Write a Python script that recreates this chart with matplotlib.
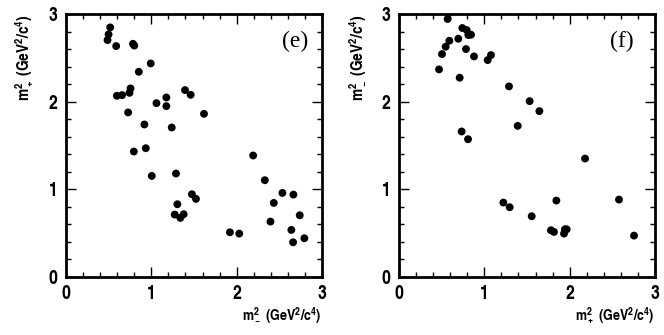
import matplotlib
matplotlib.use("Agg")
import matplotlib.pyplot as plt
from matplotlib.ticker import MultipleLocator

CN = 'TeX Gyre Heros Cn'
plt.rcParams['font.family'] = [CN, 'Liberation Sans', 'DejaVu Sans']
plt.rcParams['mathtext.fontset'] = 'custom'
plt.rcParams['mathtext.rm'] = CN + ':bold'
plt.rcParams['mathtext.it'] = CN + ':bold'
plt.rcParams['mathtext.bf'] = CN + ':bold'
plt.rcParams['mathtext.sf'] = CN + ':bold'

# Panel (e): x = m-^2, y = m+^2
e_x = [0.518, 0.499, 0.487, 0.588, 0.785, 0.800, 0.993, 0.853, 0.596, 0.658, 0.744, 0.756,
       1.060, 1.176, 1.176, 1.395, 1.461, 1.617, 0.728, 0.919, 1.239, 0.935, 0.795, 1.005,
       1.289, 1.305, 1.274, 1.340, 1.379, 1.476, 1.523, 1.921, 2.030, 2.193, 2.330, 2.435,
       2.396, 2.536, 2.665, 2.739, 2.641, 2.661, 2.793]
e_y = [2.847, 2.767, 2.703, 2.634, 2.660, 2.640, 2.436, 2.341, 2.067, 2.075, 2.101, 2.151,
       1.983, 2.048, 1.949, 2.132, 2.078, 1.861, 1.877, 1.740, 1.705, 1.469, 1.431, 1.153,
       1.180, 0.830, 0.712, 0.674, 0.716, 0.944, 0.891, 0.510, 0.495, 1.386, 1.104, 0.845,
       0.632, 0.959, 0.940, 0.704, 0.537, 0.396, 0.442]

# Panel (f): x = m+^2, y = m-^2
f_x = [0.570, 0.469, 0.504, 0.547, 0.590, 0.695, 0.742, 0.793, 0.813, 0.844, 0.785, 0.879,
       0.711, 1.039, 1.078, 1.289, 1.531, 1.645, 1.391, 0.734, 0.809, 2.180, 1.223, 1.297,
       1.555, 1.844, 2.578, 1.781, 1.816, 1.934, 1.945, 1.965, 2.754]
f_y = [2.943, 2.368, 2.543, 2.627, 2.695, 2.718, 2.840, 2.817, 2.760, 2.764, 2.600, 2.516,
       2.273, 2.474, 2.531, 2.174, 2.006, 1.892, 1.724, 1.660, 1.572, 1.351, 0.849, 0.796,
       0.693, 0.872, 0.883, 0.533, 0.514, 0.495, 0.544, 0.544, 0.472]

ticks = [0, 1, 2, 3]
tick_labels = ['0', '1', '2', '3']

W, H = 664, 335
fig = plt.figure(figsize=(W / 100, H / 100), dpi=100)

panels = [
    (66, e_x, e_y, r'$\mathrm{m^2_-}$ (GeV$^2$/c$^4$)', r'$\mathrm{m^2_+}$ (GeV$^2$/c$^4$)', '(e)', 0.896),
    (399, f_x, f_y, r'$\mathrm{m^2_+}$ (GeV$^2$/c$^4$)', r'$\mathrm{m^2_-}$ (GeV$^2$/c$^4$)', '(f)', 0.871),
]
for left, xs, ys, xl, yl, tag, tagx in panels:
    ax = fig.add_axes([left / W, (H - 277) / H, 256 / W, 263 / H])
    ax.scatter(xs, ys, s=32, color='black', edgecolors='none', zorder=3)
    ax.set_xlim(0, 3)
    ax.set_ylim(0, 3)
    ax.set_xticks(ticks)
    ax.set_xticklabels(tick_labels)
    ax.set_yticks(ticks)
    ax.set_yticklabels(tick_labels)
    ax.xaxis.set_minor_locator(MultipleLocator(0.2))
    ax.yaxis.set_minor_locator(MultipleLocator(0.2))
    ax.tick_params(which='both', direction='in', top=True, right=True, width=1.0, color='black')
    ax.tick_params(which='major', length=7, labelsize=14, pad=6)
    ax.tick_params(which='minor', length=3.5)
    for lab in ax.get_xticklabels() + ax.get_yticklabels():
        lab.set_fontweight('bold')
        lab.set_family(CN)
    for sp in ax.spines.values():
        sp.set_linewidth(2.0)
    ax.set_xlabel(xl, fontsize=11, fontweight='bold', family=CN, loc='right')
    ax.xaxis.set_label_coords(1.0, -0.105)
    ax.set_ylabel(yl, fontsize=12, fontweight='bold', family=CN, loc='top')
    ax.yaxis.set_label_coords(-0.12, 1.0)
    ax.text(tagx, 0.894, tag, transform=ax.transAxes, ha='center', va='center',
            fontsize=17, family='Liberation Serif')

fig.savefig('out.png', dpi=100)
